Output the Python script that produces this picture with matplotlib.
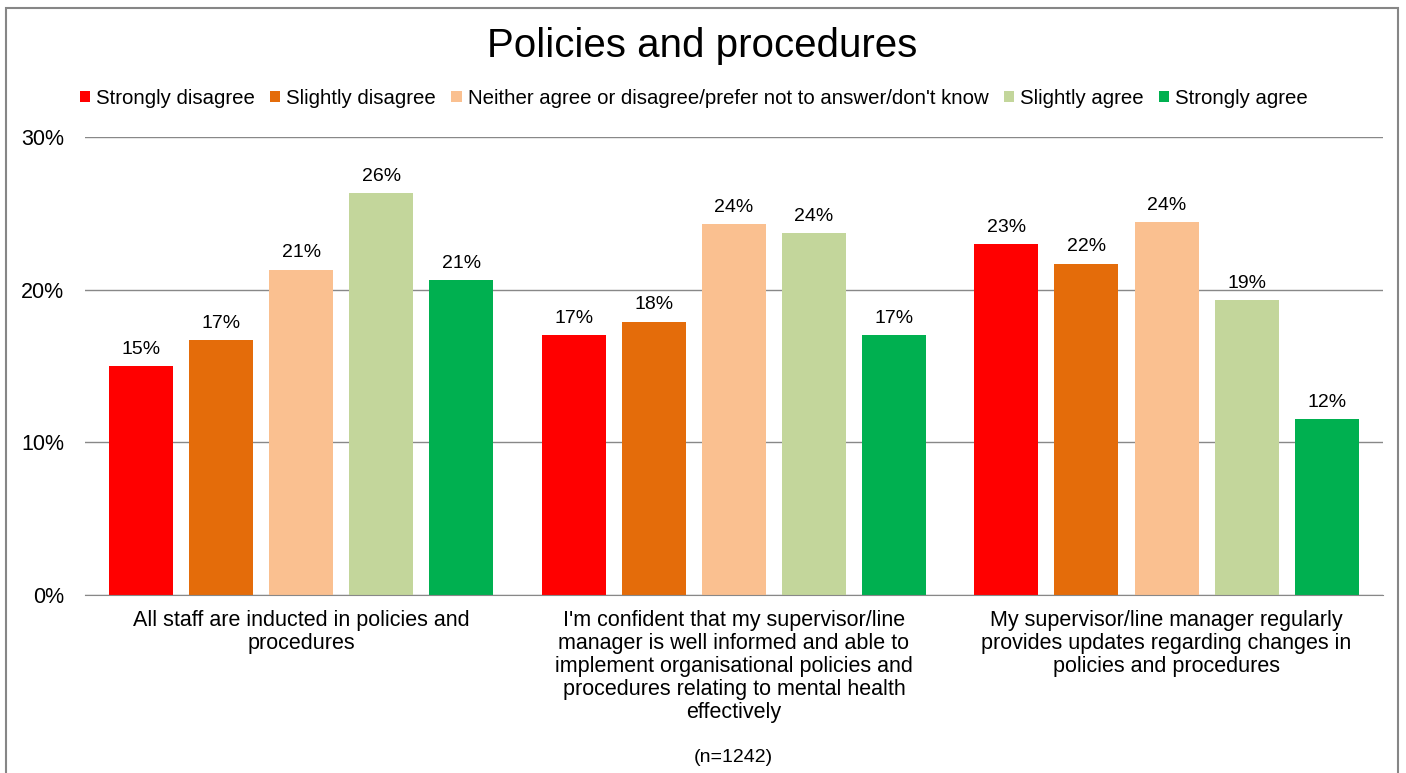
import numpy as np
import matplotlib.pyplot as plt
from matplotlib.patches import Rectangle

plt.rcParams['font.family'] = ['Liberation Sans', 'DejaVu Sans']

questions = [
    "All staff are inducted in policies and\nprocedures",
    "I'm confident that my supervisor/line\nmanager is well informed and able to\nimplement organisational policies and\nprocedures relating to mental health\neffectively",
    "My supervisor/line manager regularly\nprovides updates regarding changes in\npolicies and procedures",
]
responses = [
    "Strongly disagree",
    "Slightly disagree",
    "Neither agree or disagree/prefer not to answer/don't know",
    "Slightly agree",
    "Strongly agree",
]
# percentage per response, one list per question
values = [
    [15.0, 16.7, 21.3, 26.3, 20.6],
    [17.0, 17.9, 24.3, 23.7, 17.0],
    [23.0, 21.7, 24.4, 19.3, 11.5],
]
labels = [
    ["15%", "17%", "21%", "26%", "21%"],
    ["17%", "18%", "24%", "24%", "17%"],
    ["23%", "22%", "24%", "19%", "12%"],
]
colors = ["#FF0000", "#E46C0A", "#FAC090", "#C3D69B", "#00B050"]

fig = plt.figure(figsize=(14.06, 7.73), dpi=100)
ax = fig.add_axes([0.0605, 0.2303, 0.923, 0.5925])

x = np.arange(len(questions))
step = 0.185
width = 0.148
vals = np.array(values)
for i, resp in enumerate(responses):
    pos = x + (i - 2) * step
    bars = ax.bar(pos, vals[:, i], width, color=colors[i], label=resp, zorder=3)
    for b, lab in zip(bars, [row[i] for row in labels]):
        ax.annotate(lab, (b.get_x() + b.get_width() / 2, b.get_height()),
                    xytext=(0, 6), textcoords='offset points',
                    ha='center', va='bottom', fontsize=14)

ax.set_xlim(-0.5, 2.5)
ax.set_ylim(0, 30)
ax.set_yticks([0, 10, 20, 30])
ax.set_yticklabels(["0%", "10%", "20%", "30%"], fontsize=15.5)
ax.set_xticks(x)
ax.set_xticklabels(questions, fontsize=15.5, linespacing=1.12, va='top')
ax.tick_params(axis='y', length=0, pad=15)
ax.tick_params(axis='x', length=0, pad=11)
ax.yaxis.grid(True, color='#888888', linewidth=1, zorder=0)
for s in ['top', 'right', 'left']:
    ax.spines[s].set_visible(False)
ax.spines['bottom'].set_color('#888888')
ax.spines['bottom'].set_zorder(4)

fig.text(0.4995, 0.94, "Policies and procedures", ha='center', va='center', fontsize=29)
fig.legend(loc='center', bbox_to_anchor=(0.4935, 0.873), ncol=5, frameon=False,
           fontsize=14.7, handlelength=0.5, handleheight=0.5, handletextpad=0.3,
           columnspacing=0.75)
fig.text(733 / 1406, 1 - 757 / 773, "(n=1242)", ha='center', va='center', fontsize=14)

# outer chart border
fig.patches.append(Rectangle((6 / 1406, -0.05), 1392 / 1406, 1.05 - 8 / 773,
                             transform=fig.transFigure, fill=False,
                             edgecolor='#868686', linewidth=1.5))

fig.savefig("out.png", dpi=100)
